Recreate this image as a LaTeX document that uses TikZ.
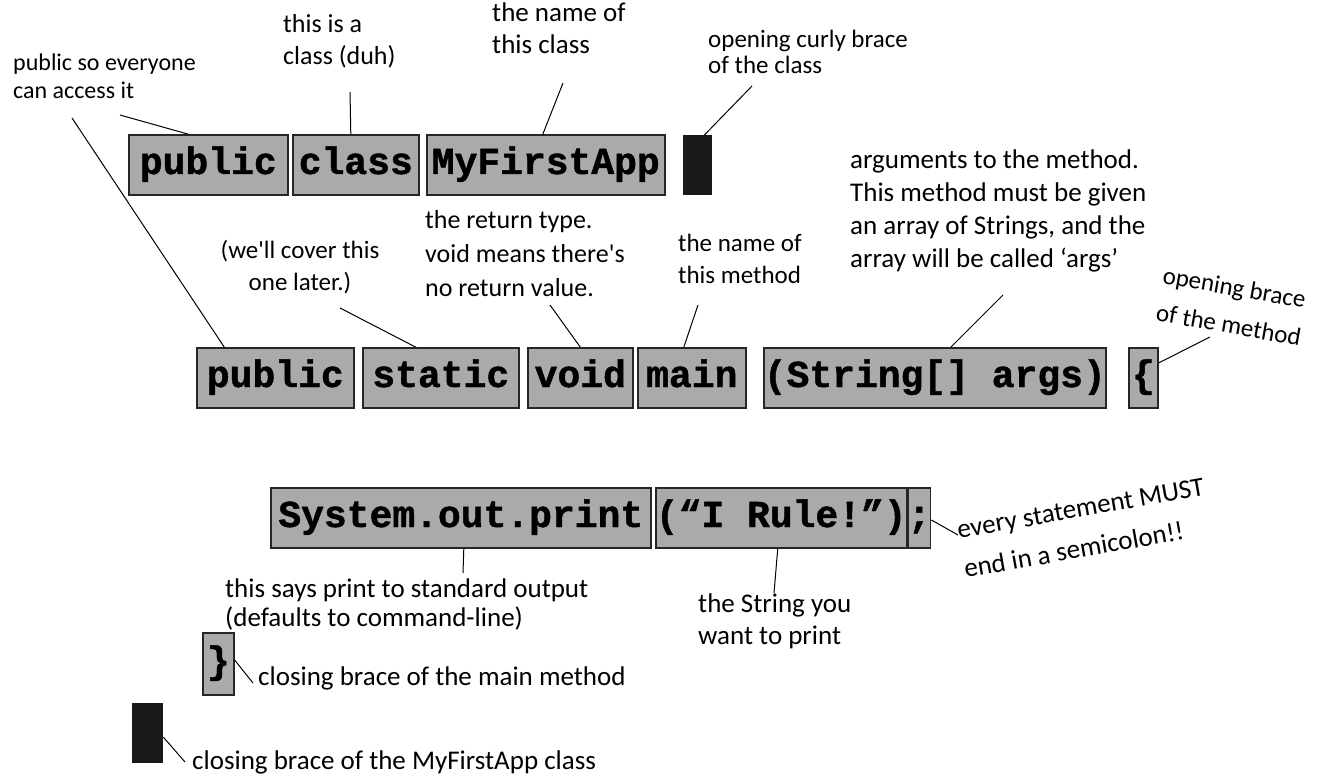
\documentclass[tikz,border=0pt]{standalone}
\usepackage{fontspec}
\newfontfamily\codefont{Liberation Mono}[BoldFeatures={FakeBold=1.2}]
\newfontfamily\handfont{Carlito}
\definecolor{boxgray}{RGB}{170,170,170}

\begin{document}
\begin{tikzpicture}[x=1pt, y=-1pt,
	code/.style={draw=black!85, line width=1.6pt, fill=boxgray, inner sep=0pt, minimum height=60pt, text height=26pt, text depth=8pt, anchor=west, font=\codefont\bfseries\fontsize{38}{38}\selectfont},
	blk/.style={fill=black!90, inner sep=0pt, minimum width=29pt, minimum height=60pt, anchor=north west},
	note/.style={inner sep=0pt, anchor=north west, align=left, font=\handfont\fontsize{27}{32}\selectfont},
	ln/.style={line width=1pt}]
		\useasboundingbox (0,0) rectangle (1320,778);
		
		%class line
		\node[code, minimum width=159pt] (pub1) at (128,165) {public};
		\node[code, minimum width=126pt] (cls) at (292,165) {class};
		\node[code, minimum width=238pt] (app) at (426,165) {MyFirstApp};
		\node[blk] (ocls) at (683,135) {};
		
		%method line
		\node[code, minimum width=157pt] (pub2) at (196,378) {public};
		\node[code, minimum width=156pt] (stat) at (362,378) {static};
		\node[code, minimum width=105pt] (void) at (527,378) {void};
		\node[code, minimum width=108pt] (main) at (637,378) {main};
		\node[code, minimum width=342pt] (args) at (763,378) {(String[] args)};
		\node[code, minimum width=29pt] (obr) at (1128,378) {\{};
		
		%print line
		\node[code, minimum width=380pt] (sys) at (270,518) {System.out.print};
		\node[code, minimum width=245pt] (rule) at (655,518) {(“I Rule!”)};
		\node[code, minimum width=21pt] (semi) at (907,518) {;};
		
		%closing braces
		\node[code, minimum width=31pt, minimum height=62pt] (cbr) at (202,664) {\}};
		\node[blk, minimum width=31pt] (ccls) at (132,703) {};
		
		%notes
		\node[note, font=\handfont\fontsize{24}{28}\selectfont] (pubnote) at (13,54) {public so everyone\\can access it};
		\node[note, font=\handfont\fontsize{26}{32}\selectfont] (clsnote) at (283,14) {this is a\\class (duh)};
		\node[note] (appnote) at (492,3) {the name of\\this class};
		\node[note, font=\handfont\fontsize{25}{26}\selectfont] (oclsnote) at (708,30) {opening curly brace\\of the class};
		\node[note, anchor=north, align=center, font=\handfont\fontsize{25}{32}\selectfont] (statnote) at (300,240) {(we'll cover this\\one later.)};
		\node[note, font=\handfont\fontsize{26}{34}\selectfont] (voidnote) at (425,210) {the return type.\\void means there's\\no return value.};
		\node[note, font=\handfont\fontsize{25}{32}\selectfont] (mainnote) at (678,234) {the name of\\this method};
		\node[note, font=\handfont\fontsize{27}{33}\selectfont] (argsnote) at (850,150) {arguments to the method.\\This method must be given\\an array of Strings, and the\\array will be called ‘args’};
		\node[note, anchor=center, rotate=-10, font=\handfont\fontsize{25}{38}\selectfont] (obrnote) at (1232,306) {opening brace\\of the method};
		\node[note, font=\handfont\fontsize{27}{29}\selectfont] (sysnote) at (225,579) {this says print to standard output\\(defaults to command-line)};
		\node[note] (rulenote) at (698,594) {the String you\\want to print};
		\node[note, anchor=center, rotate=10, font=\handfont\fontsize{27}{40}\selectfont] (seminote) at (1084,528) {every statement MUST\\end in a semicolon!!};
		\node[note, anchor=west] (cbrnote) at (258,678) {closing brace of the main method};
		\node[note, anchor=west] (cclsnote) at (192,762) {closing brace of the MyFirstApp class};
		
		%connectors
		\coordinate (cpub1) at (120,115);
		\coordinate (cpub2) at (72,118);
		\coordinate (ccls1) at (350,92);
		\coordinate (capp) at (563,83);
		\coordinate (cocls) at (752,86);
		\coordinate (cstat) at (340,308);
		\coordinate (cvoid) at (550,305);
		\coordinate (cmain) at (698,305);
		\coordinate (cargs) at (1003,295);
		\coordinate (cobr) at (1210,337);
		\coordinate (csys) at (463,573);
		\coordinate (crule) at (774,593);
		\coordinate (csemi) at (958,535);
		\coordinate (ccbr) at (253,683);
		\coordinate (cccls) at (185,762);
		
		\draw[ln] (cpub1) -- ([xshift=-20pt]pub1.north);
		\draw[ln] (cpub2) -- ([xshift=-51pt]pub2.north);
		\draw[ln] (ccls1) -- ([xshift=-5pt]cls.north);
		\draw[ln] (capp) -- ([xshift=-3pt]app.north);
		\draw[ln] (cocls) -- ([xshift=-8pt]ocls.north east);
		\draw[ln] (cstat) -- ([xshift=-25pt]stat.north);
		\draw[ln] (cvoid) -- (void.north);
		\draw[ln] (cmain) -- ([xshift=-8pt]main.north);
		\draw[ln] (cargs) -- ([xshift=16pt]args.north);
		\draw[ln] (cobr) -- ([yshift=15pt]obr.east);
		\draw[ln] (csys) -- ([xshift=3pt]sys.south);
		\draw[ln] (crule) -- ([xshift=-3.5pt]rule.south);
		\draw[ln] (csemi) -- ([yshift=-2pt]semi.east);
		\draw[ln] (ccbr) -- ([yshift=4pt]cbr.east);
		\draw[ln] (cccls) -- ([yshift=-4pt]ccls.east);
\end{tikzpicture}
\end{document}
